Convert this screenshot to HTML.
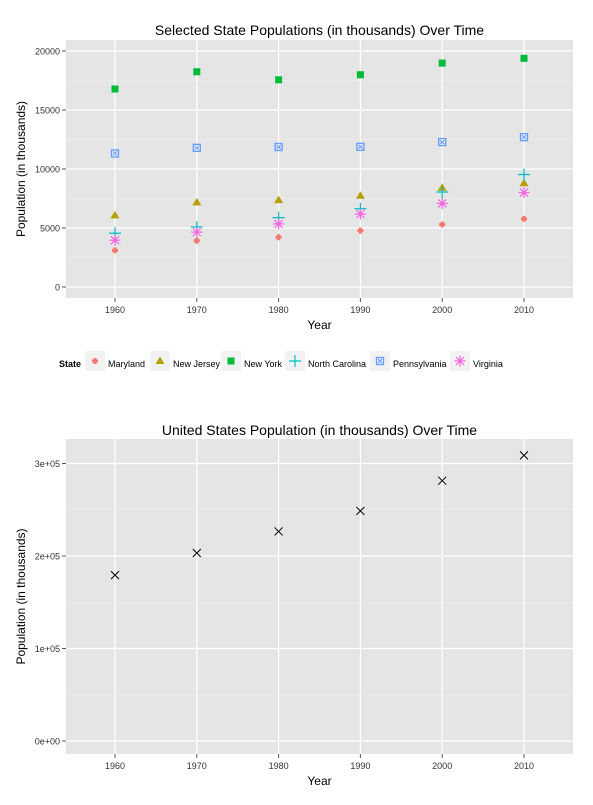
<!DOCTYPE html>
<html><head><meta charset="utf-8"><style>
body{margin:0;background:#fff;font-family:"Liberation Sans",Arial,sans-serif}
svg text{font-family:"Liberation Sans",Arial,sans-serif}
</style></head><body>
<svg id="c" width="593" height="800" xmlns="http://www.w3.org/2000/svg"></svg>
<script>
const years=[1960,1970,1980,1990,2000,2010];
const states=["Maryland","New Jersey","New York","North Carolina","Pennsylvania","Virginia"];
const maryland=[3101,3922,4217,4781,5296,5774];
const newJersey=[6067,7168,7365,7730,8414,8792];
const newYork=[16782,18241,17558,17990,18976,19378];
const northCarolina=[4556,5082,5882,6629,8049,9535];
const pennsylvania=[11319,11794,11864,11882,12281,12702];
const virginia=[3967,4651,5347,6187,7079,8001];
const usPop=[179323,203212,226546,248710,281422,308746];
const topTicks=[0,5000,10000,15000,20000];
const botTicks=[0,100000,200000,300000];
const botTickLabels=["0e+00","1e+05","2e+05","3e+05"];

const NS="http://www.w3.org/2000/svg";
const svg=document.getElementById('c');
function mk(tag,attrs,parent,text){const e=document.createElementNS(NS,tag);for(const k in attrs)e.setAttribute(k,attrs[k]);if(text!==undefined)e.textContent=text;(parent||svg).appendChild(e);return e;}
const xs=y=>115+(y-1960)/10*81.8;
const x0=66,x1=573;

function panel(name,top,bottom,ticks,labels,yScale,title,titleY){
  const g=mk('g',{});
  
  
  mk('rect',{x:x0,y:top,width:x1-x0,height:bottom-top,fill:'#e5e5e5'},g);
  for(let i=0;i<ticks.length-1;i++){const v=(ticks[i]+ticks[i+1])/2;mk('line',{x1:x0,x2:x1,y1:yScale(v),y2:yScale(v),stroke:'#f2f2f2','stroke-width':0.6},g);}
  const last=ticks[ticks.length-1],step=ticks[1]-ticks[0];
  if(yScale(last+step/2)>top) {const yy=yScale(last+step/2);mk('line',{x1:x0,x2:x1,y1:yy,y2:yy,stroke:'#f2f2f2','stroke-width':0.6},g);}
  ticks.forEach((t,i)=>{const y=yScale(t);
    mk('line',{x1:x0,x2:x1,y1:y,y2:y,stroke:'#fff','stroke-width':1.2},g);
    mk('line',{x1:x0-4,x2:x0,y1:y,y2:y,stroke:'#555'},g);
    const tl=mk('text',{x:x0-6,y:y+3.5,'text-anchor':'end','font-size':9,fill:'#333'},g,labels[i]);
    
  });
  years.forEach(yr=>{const x=xs(yr);
    mk('line',{x1:x,x2:x,y1:top,y2:bottom,stroke:'#fff','stroke-width':1.2},g);
    mk('line',{x1:x,x2:x,y1:bottom,y2:bottom+4,stroke:'#555'},g);
    const tl=mk('text',{x:x,y:bottom+15,'text-anchor':'middle','font-size':9,fill:'#333'},g,yr);
    
  });
  const t=mk('text',{x:(x0+x1)/2,y:titleY,'text-anchor':'middle','font-size':14,fill:'#000'},g,title);
  
  const xt=mk('text',{x:(x0+x1)/2,y:bottom+31,'text-anchor':'middle','font-size':12,fill:'#000'},g,'Year');
  
  const cy=(top+bottom)/2;
  const yt=mk('text',{x:25,y:cy,'text-anchor':'middle','font-size':12,fill:'#000',transform:`rotate(-90 25 ${cy})`},g,'Population (in thousands)');
  
  return g;
}

const ty=v=>287-v/5000*59;
const gTop=panel('state-panel',40,298,topTicks,topTicks.map(String),ty,'Selected State Populations (in thousands) Over Time',35);

function marker(kind,x,y,parent){
  const g=mk('g',{},parent);
  if(kind==='circle'){mk('path',{d:`M${x-3},${y-1.5}h1.5v-1.5h3v1.5h1.5v3h-1.5v1.5h-3v-1.5h-1.5z`,fill:'#f8766d'},g);}
  else if(kind==='tri'){mk('polygon',{points:`${x},${y-4.5} ${x+4.5},${y+3} ${x-4.5},${y+3}`,fill:'#b79f00'},g);}
  else if(kind==='sq'){mk('rect',{x:x-3.5,y:y-3.5,width:7,height:7,fill:'#00ba38'},g);}
  else if(kind==='plus'){mk('path',{d:`M${x-6},${y}h12M${x},${y-6}v12`,stroke:'#00bfc4','stroke-width':1.2},g);}
  else if(kind==='boxx'){mk('rect',{x:x-3.5,y:y-3.5,width:7,height:7,fill:'none',stroke:'#619cff','stroke-width':1.3},g);mk('path',{d:`M${x-2},${y-2}l4,4M${x+2},${y-2}l-4,4`,stroke:'#619cff','stroke-width':1},g);}
  else if(kind==='star'){mk('path',{d:`M${x-5.5},${y}h11M${x},${y-5.5}v11M${x-4},${y-4}l8,8M${x+4},${y-4}l-8,8`,stroke:'#f564e3','stroke-width':1.2},g);}
  return g;
}
const series=[[maryland,'circle'],[newJersey,'tri'],[newYork,'sq'],[northCarolina,'plus'],[pennsylvania,'boxx'],[virginia,'star']];
series.forEach(([arr,k],si)=>{arr.forEach((v,i)=>{
  const m=marker(k,xs(years[i]),ty(v),gTop);
  
  
});});

const lg=mk('g',{});


mk('text',{x:59,y:367,'font-size':9,'font-weight':'bold'},lg,'State');
const lx=[85,150,221,285,370,450];
const kinds=['circle','tri','sq','plus','boxx','star'];
states.forEach((s,i)=>{
  const e=mk('g',{},lg);
  
  
  mk('rect',{x:lx[i],y:351,width:20,height:20,fill:'#f2f2f2'},e);
  marker(kinds[i],lx[i]+10,361,e);
  mk('text',{x:lx[i]+23,y:367,'font-size':9,fill:'#000'},e,s);
});

const by=v=>741-v/100000*92.5;
const gBot=panel('us-panel',439,754,botTicks,botTickLabels,by,'United States Population (in thousands) Over Time',435);
usPop.forEach((v,i)=>{const x=xs(years[i]),y=by(v);
  const p=mk('path',{d:`M${x-4},${y-4}l8,8M${x+4},${y-4}l-8,8`,stroke:'#000','stroke-width':1},gBot);
  
  
});
</script>
</body></html>
